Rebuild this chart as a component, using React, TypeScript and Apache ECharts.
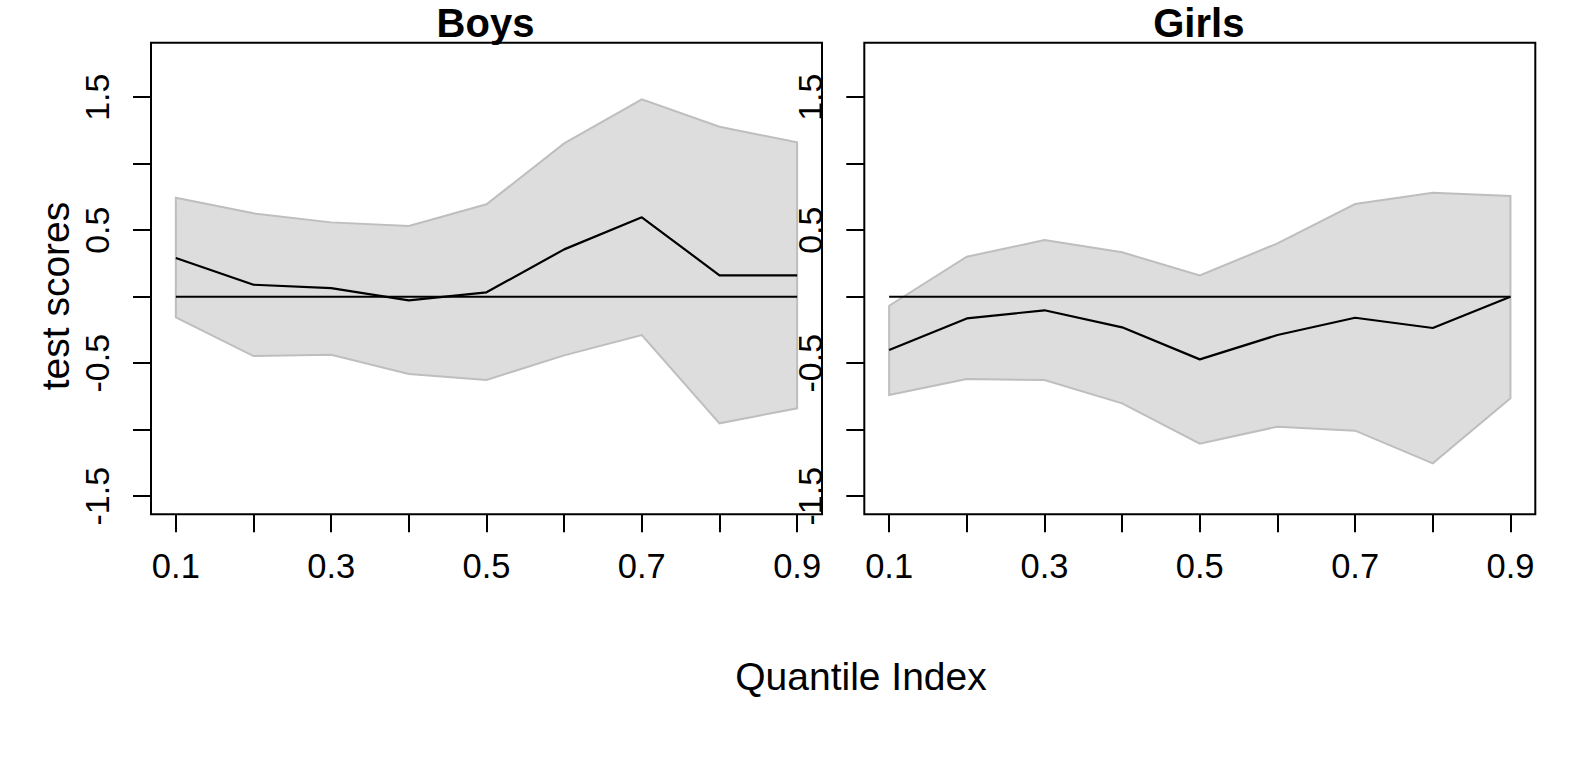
import React, { useEffect, useRef } from "react";
import * as echarts from "echarts";

// ---- data ----
const quantiles = [0.1, 0.2, 0.3, 0.4, 0.5, 0.6, 0.7, 0.8, 0.9];

const boysCoef = [0.291, 0.09, 0.065, -0.027, 0.033, 0.356, 0.597, 0.161, 0.161];
const boysUpper = [0.744, 0.627, 0.559, 0.532, 0.695, 1.153, 1.484, 1.278, 1.161];
const boysLower = [-0.155, -0.446, -0.436, -0.581, -0.626, -0.441, -0.288, -0.952, -0.839];

const girlsCoef = [-0.401, -0.163, -0.102, -0.23, -0.471, -0.288, -0.158, -0.235, 0.0];
const girlsUpper = [-0.068, 0.301, 0.426, 0.334, 0.16, 0.401, 0.697, 0.782, 0.757];
const girlsLower = [-0.739, -0.619, -0.626, -0.802, -1.105, -0.977, -1.007, -1.253, -0.764];

const panelTitles = ["Boys", "Girls"];
const xTickValues = [0.1, 0.2, 0.3, 0.4, 0.5, 0.6, 0.7, 0.8, 0.9];
const xLabelValues = [0.1, 0.3, 0.5, 0.7, 0.9];
const yTickValues = [-1.5, -1, -0.5, 0, 0.5, 1, 1.5];
const yLabelValues = [-1.5, -0.5, 0.5, 1.5];
const xLabelTitle = "Quantile Index";
const yLabelTitle = "test scores";

const FONT = "'Liberation Sans', Arial, Helvetica, sans-serif";

export default function App() {
  const ref = useRef<HTMLDivElement>(null);

  useEffect(() => {
    if (!ref.current) return;
    const chart = echarts.init(ref.current, null, { renderer: "svg" });

    const panels = [
      { coef: boysCoef, upper: boysUpper, lower: boysLower, left: 151 },
      { coef: girlsCoef, upper: girlsUpper, lower: girlsLower, left: 864.3 },
    ];
    const gridTop = 42.7;
    const gridH = 471.6;
    const gridW = 671;

    const grids = panels.map((p) => ({
      left: p.left,
      top: gridTop,
      width: gridW,
      height: gridH,
      show: true,
      borderColor: "#000",
      borderWidth: 2,
      backgroundColor: "transparent",
      containLabel: false,
    }));

    const xAxes = panels.map((_, i) => ({
      type: "value",
      gridIndex: i,
      position: "bottom",
      min: 0.068,
      max: 0.932,
      axisLine: { show: false, onZero: false },
      splitLine: { show: false },
      axisTick: {
        show: true,
        customValues: xTickValues,
        length: 18,
        inside: false,
        lineStyle: { color: "#000", width: 2 },
      },
      axisLabel: {
        show: true,
        customValues: xLabelValues,
        fontSize: 34.5,
        fontFamily: FONT,
        color: "#000",
        margin: 52,
        verticalAlign: "middle",
        formatter: (v: number) => v.toFixed(1),
      },
    }));

    const yAxes = panels.map((_, i) => ({
      type: "value",
      gridIndex: i,
      position: "left",
      min: -1.636,
      max: 1.91,
      axisLine: { show: false, onZero: false },
      splitLine: { show: false },
      axisTick: {
        show: true,
        customValues: yTickValues,
        length: 18,
        inside: false,
        lineStyle: { color: "#000", width: 2 },
      },
      axisLabel: {
        show: true,
        customValues: yLabelValues,
        rotate: 90,
        fontSize: 34,
        fontFamily: FONT,
        color: "#000",
        margin: 54,
        align: "center",
        verticalAlign: "middle",
        formatter: (v: number) => String(Math.round(v * 10) / 10),
      },
    }));

    const series: any[] = [];
    panels.forEach((p, i) => {
      series.push({
        type: "custom",
        xAxisIndex: i,
        yAxisIndex: i,
        data: [[0.5, 0]],
        silent: true,
        z: 1,
        renderItem: (_params: any, api: any) => {
          const top = quantiles.map((q, k) => api.coord([q, p.upper[k]]));
          const bot = quantiles
            .map((q, k) => api.coord([q, p.lower[k]]))
            .reverse();
          return {
            type: "polygon",
            shape: { points: top.concat(bot) },
            style: { fill: "#DDDDDD", stroke: "#BEBEBE", lineWidth: 2 },
          };
        },
      });
      series.push({
        type: "line",
        xAxisIndex: i,
        yAxisIndex: i,
        data: [
          [quantiles[0], 0],
          [quantiles[quantiles.length - 1], 0],
        ],
        symbol: "none",
        silent: true,
        z: 2,
        lineStyle: { color: "#000", width: 2 },
      });
      series.push({
        type: "line",
        xAxisIndex: i,
        yAxisIndex: i,
        data: quantiles.map((q, k) => [q, p.coef[k]]),
        symbol: "none",
        silent: true,
        z: 3,
        lineStyle: { color: "#000", width: 2.2 },
      });
    });

    const textStyle = (text: string, fontSize: number, bold = false) => ({
      text,
      fontSize,
      fontWeight: bold ? "bold" : "normal",
      fontFamily: FONT,
      fill: "#000",
      align: "center",
      verticalAlign: "middle",
      textAlign: "center",
      textVerticalAlign: "middle",
    });

    const graphic: any[] = [
      ...panels.map((p, i) => ({
        type: "text",
        x: p.left + gridW / 2 - 1,
        y: 23,
        style: textStyle(panelTitles[i], 40, true),
      })),
      {
        type: "text",
        x: 861,
        y: 676,
        style: textStyle(xLabelTitle, 39),
      },
      {
        type: "text",
        x: 55,
        y: 296,
        rotation: Math.PI / 2,
        style: textStyle(yLabelTitle, 39),
      },
    ];

    chart.setOption({
      animation: false,
      backgroundColor: "#fff",
      grid: grids,
      xAxis: xAxes,
      yAxis: yAxes,
      series,
      graphic,
    });

    return () => chart.dispose();
  }, []);

  return (
    <div
      ref={ref}
      style={{ position: "fixed", left: 0, top: 0, width: 1578, height: 774 }}
    />
  );
}
